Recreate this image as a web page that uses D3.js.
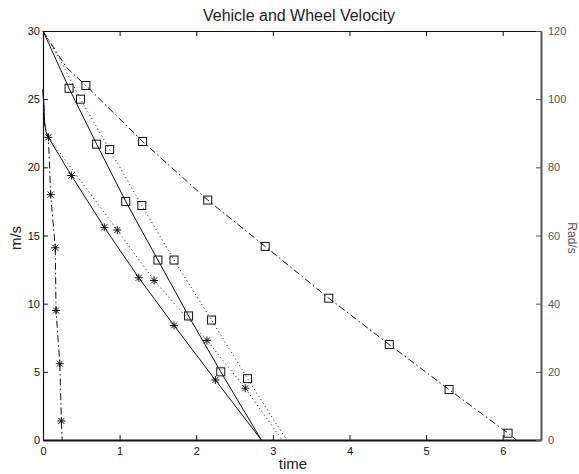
<!DOCTYPE html>
<html><head><meta charset="utf-8">
<script src="https://cdn.jsdelivr.net/npm/d3@7"></script>
<style>
html,body{margin:0;padding:0;background:#fff;}
svg{display:block;font-family:"Liberation Sans",Arial,sans-serif;}
</style></head>
<body>
<svg id="chart" width="579" height="474"></svg>
<script>
// ---- data (time in s, velocity in m/s) ----
const xTicks = [0,1,2,3,4,5,6];
const yLeftTicks = [0,5,10,15,20,25,30];
const yRightTicks = [0,20,40,60,80,100,120];

// vehicle velocity curves (squares)
const vehSolidT  = [0, 0.34, 0.70, 1.08, 1.50, 1.90, 2.32, 2.85];
const vehSolidV  = [30, 25.8, 21.7, 17.5, 13.2, 9.1, 5.0, 0];
const vehDotT    = [0, 0.22, 0.49, 0.87, 1.29, 1.71, 2.20, 2.67, 3.18];
const vehDotV    = [30, 27.9, 25.0, 21.3, 17.2, 13.2, 8.8, 4.5, 0];
const vehDashT   = [0, 0.31, 0.56, 1.30, 2.15, 2.90, 3.73, 4.52, 5.30, 6.07, 6.18];
const vehDashV   = [30, 27.3, 26.0, 21.9, 17.6, 14.2, 10.4, 7.0, 3.7, 0.5, 0];
const vehSolidMarkT = [0.34, 0.70, 1.08, 1.50, 1.90, 2.32];
const vehSolidMarkV = [25.8, 21.7, 17.5, 13.2, 9.1, 5.0];
const vehDotMarkT   = [0.49, 0.87, 1.29, 1.71, 2.20, 2.67];
const vehDotMarkV   = [25.0, 21.3, 17.2, 13.2, 8.8, 4.5];
const vehDashMarkT  = [0.56, 1.30, 2.15, 2.90, 3.73, 4.52, 5.30, 6.07];
const vehDashMarkV  = [26.0, 21.9, 17.6, 14.2, 10.4, 7.0, 3.7, 0.5];

// wheel velocity curves (asterisks), expressed in m/s
const whlSolidT = [0, 0.01, 0.02, 0.04, 0.07, 0.37, 0.80, 1.25, 1.71, 2.25, 2.85];
const whlSolidV = [25.7, 24.6, 23.3, 22.6, 22.2, 19.4, 15.6, 11.9, 8.4, 4.4, 0];
const whlDotT   = [0, 0.01, 0.02, 0.04, 0.07, 0.97, 1.45, 2.14, 2.64, 3.12];
const whlDotV   = [25.7, 24.6, 23.3, 22.6, 22.2, 15.4, 11.7, 7.3, 3.8, 0];
const whlDashT  = [0, 0.01, 0.02, 0.04, 0.07, 0.10, 0.16, 0.17, 0.22, 0.24, 0.25];
const whlDashV  = [25.7, 24.6, 23.3, 22.6, 22.2, 18.0, 14.1, 9.5, 5.6, 1.4, 0];
const whlSolidMarkT = [0.07, 0.37, 0.80, 1.25, 1.71, 2.25];
const whlSolidMarkV = [22.2, 19.4, 15.6, 11.9, 8.4, 4.4];
const whlDotMarkT   = [0.97, 1.45, 2.14, 2.64];
const whlDotMarkV   = [15.4, 11.7, 7.3, 3.8];
const whlDashMarkT  = [0.10, 0.16, 0.17, 0.22, 0.24];
const whlDashMarkV  = [18.0, 14.1, 9.5, 5.6, 1.4];

// ---- layout ----
const L = 43, R = 541, T = 31, B = 440;
const svg = d3.select("#chart");
const x = d3.scaleLinear().domain([0, 6.5]).range([L, R]);
const y = d3.scaleLinear().domain([0, 30]).range([B, T]);
const y2 = d3.scaleLinear().domain([0, 120]).range([B, T]);

const zip = (a, b) => a.map((t, i) => [t, b[i]]);
const line = d3.line().x(d => x(d[0])).y(d => y(d[1]));

const styles = {solid: null, dot: "1,3", dash: "7,3,1.5,3"};
const series = [
  {pts: zip(vehSolidT, vehSolidV), m: zip(vehSolidMarkT, vehSolidMarkV), dash: styles.solid, mk: "sq"},
  {pts: zip(vehDotT, vehDotV), m: zip(vehDotMarkT, vehDotMarkV), dash: styles.dot, mk: "sq"},
  {pts: zip(vehDashT, vehDashV), m: zip(vehDashMarkT, vehDashMarkV), dash: styles.dash, mk: "sq"},
  {pts: zip(whlSolidT, whlSolidV), m: zip(whlSolidMarkT, whlSolidMarkV), dash: styles.solid, mk: "ast"},
  {pts: zip(whlDotT, whlDotV), m: zip(whlDotMarkT, whlDotMarkV), dash: styles.dot, mk: "ast"},
  {pts: zip(whlDashT, whlDashV), m: zip(whlDashMarkT, whlDashMarkV), dash: styles.dash, mk: "ast"},
];

const plot = svg.append("g");
series.forEach(s => {
  plot.append("path").attr("d", line(s.pts))
    .attr("fill", "none").attr("stroke", "#111").attr("stroke-width", 1)
    .attr("stroke-dasharray", s.dash);
  const g = plot.append("g");
  s.m.forEach(p => {
    const cx = x(p[0]), cy = y(p[1]);
    if (s.mk === "sq") {
      g.append("rect").attr("x", cx - 4).attr("y", cy - 4).attr("width", 8).attr("height", 8)
        .attr("fill", "none").attr("stroke", "#111").attr("stroke-width", 1);
    } else {
      const r = 4, d = 3;
      g.append("path")
        .attr("d", `M${cx-r},${cy}H${cx+r}M${cx},${cy-r}V${cy+r}M${cx-d},${cy-d}L${cx+d},${cy+d}M${cx-d},${cy+d}L${cx+d},${cy-d}`)
        .attr("stroke", "#111").attr("stroke-width", 1).attr("fill", "none");
    }
  });
});

// ---- axes ----
const fs = "11px";
const fmt = d3.format("d");
const gB = svg.append("g").attr("transform", `translate(0,${B})`)
  .call(d3.axisBottom(x).tickValues(xTicks).tickFormat(fmt).tickSizeInner(-5).tickSizeOuter(0).tickPadding(7));
gB.select(".domain").attr("stroke-width", 2).attr("stroke", "#111");
const gT = svg.append("g").attr("transform", `translate(0,${T})`)
  .call(d3.axisTop(x).tickValues(xTicks).tickSizeInner(-5).tickSizeOuter(0).tickFormat(""));
const gL = svg.append("g").attr("transform", `translate(${L},0)`)
  .call(d3.axisLeft(y).tickValues(yLeftTicks).tickFormat(fmt).tickSizeInner(-5).tickSizeOuter(0).tickPadding(3));
const gR = svg.append("g").attr("transform", `translate(${R},0)`)
  .call(d3.axisRight(y2).tickValues(yRightTicks).tickFormat(fmt).tickSizeInner(-5).tickSizeOuter(0).tickPadding(7));
[gB, gT, gL].forEach(g => {
  g.selectAll("text").attr("font-size", fs).attr("fill", "#111");
  g.selectAll(".tick line").attr("stroke", "#111");
  g.attr("font-family", null);
});
gT.select(".domain").attr("stroke", "#111").attr("stroke-width", 1.2);
gL.select(".domain").attr("stroke", "#111").attr("stroke-width", 1.2);
gR.attr("font-family", null);
gR.select(".domain").attr("stroke", "#555").attr("stroke-width", 2);
gR.selectAll(".tick line").attr("stroke", "#555");
gR.selectAll("text").attr("font-size", fs).attr("fill", "#555");

// ---- labels ----
svg.append("text").attr("x", 299).attr("y", 21).attr("text-anchor", "middle")
  .attr("font-size", "16px").attr("fill", "#222").text("Vehicle and Wheel Velocity");
svg.append("text").attr("x", 293).attr("y", 469).attr("text-anchor", "middle")
  .attr("font-size", "15px").attr("fill", "#222").text("time");
svg.append("text").attr("transform", "translate(21,238) rotate(-90)").attr("text-anchor", "middle")
  .attr("font-size", "15px").attr("fill", "#222").text("m/s");
svg.append("text").attr("transform", "translate(568,238) rotate(90)").attr("text-anchor", "middle")
  .attr("font-size", "12px").attr("fill", "#555").text("Rad/s");
</script>
</body></html>
